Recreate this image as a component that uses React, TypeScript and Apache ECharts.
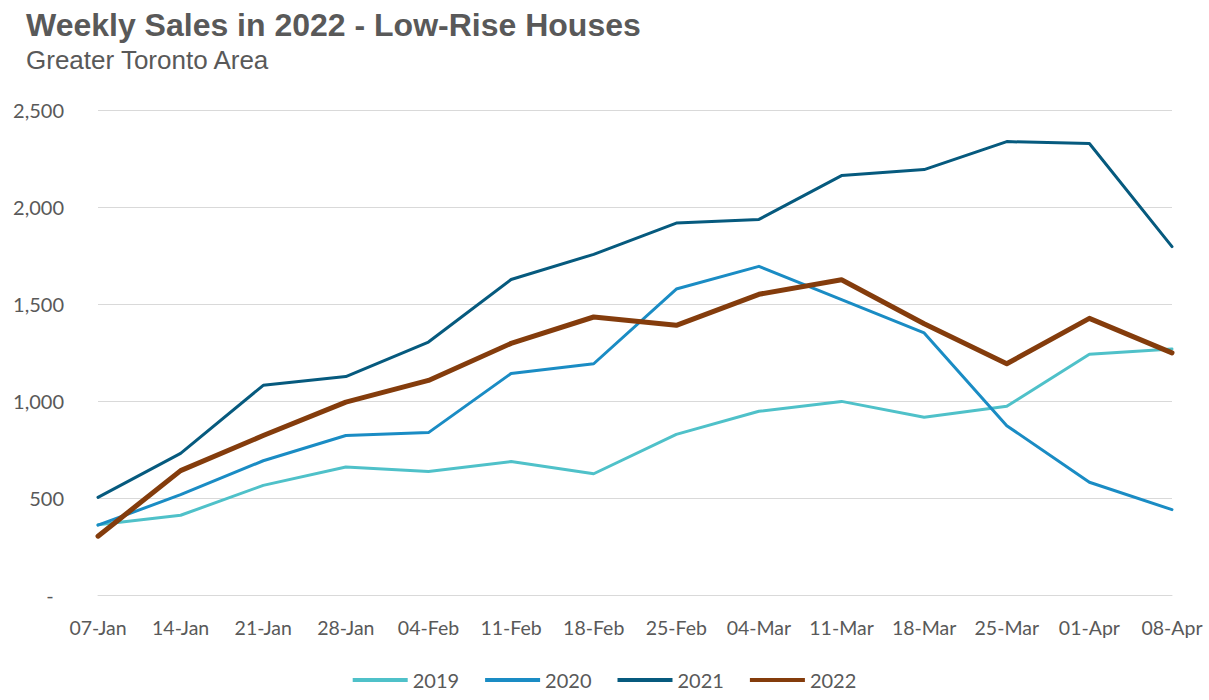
import React, { useEffect, useRef } from "react";
import * as echarts from "echarts";

// week labels
const weeks = [
  "07-Jan", "14-Jan", "21-Jan", "28-Jan", "04-Feb", "11-Feb", "18-Feb",
  "25-Feb", "04-Mar", "11-Mar", "18-Mar", "25-Mar", "01-Apr", "08-Apr",
];

// weekly low-rise sales per year
const sales2019 = [362, 411, 565, 660, 637, 688, 625, 828, 947, 998, 916, 973, 1241, 1268];
const sales2020 = [360, 517, 692, 822, 837, 1142, 1192, 1577, 1694, 1522, 1351, 873, 581, 440];
const sales2021 = [503, 730, 1081, 1126, 1304, 1626, 1756, 1917, 1936, 2162, 2193, 2337, 2327, 1796];
const sales2022 = [303, 641, 822, 994, 1106, 1297, 1433, 1390, 1550, 1625, 1398, 1192, 1426, 1248];

const yTicks = [0, 500, 1000, 1500, 2000, 2500];

const labelFont = "Lato, 'Open Sans', sans-serif";
const titleFont = "'Liberation Sans', Arial, sans-serif";
const textColor = "#595959";

const App = () => {
  const chartRef = useRef(null);

  useEffect(() => {
    document.body.style.margin = "0";
    const myChart = echarts.init(chartRef.current, null, { renderer: "svg" });

    const mkSeries = (name, data, color, width) => ({
      name,
      type: "line",
      data,
      symbol: "none",
      lineStyle: { color, width, cap: "round", join: "round" },
      itemStyle: { color },
    });

    const option = {
      animation: false,
      title: {
        text: "Weekly Sales in 2022 - Low-Rise Houses",
        subtext: "Greater Toronto Area",
        left: 21,
        top: 4,
        itemGap: 6,
        textStyle: {
          fontFamily: titleFont,
          fontSize: 32,
          fontWeight: "bold",
          color: textColor,
        },
        subtextStyle: {
          fontFamily: titleFont,
          fontSize: 26,
          color: textColor,
        },
      },
      legend: {
        bottom: 5,
        left: "center",
        icon: "rect",
        itemWidth: 55,
        itemHeight: 4,
        itemGap: 26,
        textStyle: { fontFamily: labelFont, fontSize: 20, color: textColor },
        data: ["2019", "2020", "2021", "2022"],
      },
      grid: { left: 98, right: 37, top: 110, bottom: 105 },
      xAxis: {
        type: "category",
        data: weeks,
        boundaryGap: false,
        axisLine: { lineStyle: { color: "#d9d9d9" } },
        axisTick: { show: false },
        axisLabel: {
          interval: 0,
          hideOverlap: false,
          margin: 22,
          fontFamily: labelFont,
          fontSize: 19.5,
          color: textColor,
        },
      },
      yAxis: {
        type: "value",
        min: yTicks[0],
        max: yTicks[yTicks.length - 1],
        interval: 500,
        splitLine: { lineStyle: { color: "#d9d9d9" } },
        axisLabel: {
          margin: 34,
          fontFamily: labelFont,
          fontSize: 20,
          color: textColor,
          formatter: (v) => (v === 0 ? "-  " : v.toLocaleString("en-US")),
        },
      },
      series: [
        mkSeries("2019", sales2019, "#4fc1c9", 3),
        mkSeries("2020", sales2020, "#1a8cc4", 3),
        mkSeries("2021", sales2021, "#065a7e", 3),
        mkSeries("2022", sales2022, "#843c0c", 5),
      ],
    };

    myChart.setOption(option);

    return () => {
      myChart.dispose();
    };
  }, []);

  return <div ref={chartRef} style={{ width: "1209px", height: "700px" }}></div>;
};

export default App;
